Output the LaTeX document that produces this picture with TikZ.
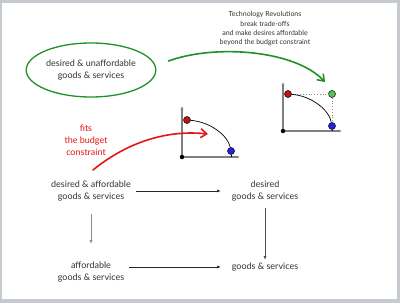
\documentclass[tikz,border=0pt]{standalone}
\usepackage{fontspec}
\setmainfont{Lato}
\usepackage{tikz}
\usetikzlibrary{arrows.meta,positioning,calc,shapes.geometric}
\definecolor{slidegray}{RGB}{196,202,208}
\definecolor{sketchgreen}{RGB}{30,145,40}
\definecolor{sketchred}{RGB}{230,20,20}
\definecolor{dotred}{RGB}{190,20,20}
\definecolor{dotgreen}{RGB}{80,200,80}
\definecolor{dotblue}{RGB}{40,30,230}

\begin{document}
\begin{tikzpicture}[x=1pt, y=-1pt,
  label/.style={align=center, font=\fontsize{9}{12}\selectfont, text=black!80, inner sep=1pt},
  note/.style={align=center, font=\fontsize{7}{9.3}\selectfont, text=black!80, inner sep=1pt},
  arrow/.style={-{Latex[length=3.5pt,width=3pt]}, line width=0.6pt, black!85},
  axis/.style={-{Latex[length=3.5pt,width=3pt]}, line width=1.1pt, black!50},
  dot/.style={circle, draw=black, line width=0.5pt, inner sep=0pt, minimum size=7pt},
  origin/.style={circle, fill=black, inner sep=0pt, minimum size=4.5pt},
  sketch/.style={-{Straight Barb[length=6pt,width=9pt]}, line width=1.6pt, line cap=round}
]
% slide
\fill[slidegray] (0,0) rectangle (400,303);
\fill[white] (2,3) rectangle (397,299);
\useasboundingbox (0,0) rectangle (400,303);

% top: the unaffordable set and the revolution
\node[label, ellipse, draw=sketchgreen, line width=1.3pt, minimum width=118pt, minimum height=54pt] (unaff) at (91,70) {desired \& unaffordable\\ goods \& services};
\node[note] (revol) at (265,29) {Technology Revolutions\\ break trade-offs\\ and make desires affordable\\ beyond the budget constraint};
\coordinate (revtip) at (325,82);
\draw[sketch, sketchgreen] ([shift={(12,-9)}]unaff.east) .. controls (215,44) and (295,50) .. (revtip);

% right frontier
\coordinate (o2) at (283,131);
\draw[axis] (o2) -- (283,82);
\draw[axis] (o2) -- (342,131);
\node[dot, fill=dotred] (r2) at (288,94) {};
\node[dot, fill=dotgreen] (g2) at (332,94) {};
\node[dot, fill=dotblue] (b2) at (332,126) {};
\draw[black!45, dotted, line width=0.8pt] (r2) -- (g2) -- (b2);
\draw[line width=0.7pt] (r2) .. controls (312,96) and (329,110) .. (b2);
\draw[line width=0.7pt] (b2) -- (b2 |- o2);
\node[origin] (o2dot) at (o2) {};

% left frontier
\coordinate (o1) at (182,157);
\draw[axis] (o1) -- (182,106);
\draw[axis] (o1) -- (240,157);
\node[dot, fill=dotred] (r1) at (187,120) {};
\node[dot, fill=dotblue] (b1) at (231,151) {};
\draw[line width=0.7pt] (r1) .. controls (211,122) and (228,136) .. (b1);
\draw[line width=0.7pt] (b1) -- (b1 |- o1);
\node[origin] (o1dot) at (o1) {};

% fits the budget
\node[label, text=sketchred] (fits) at (86,140) {fits\\ the budget\\ constraint};
\coordinate (fitstail) at (93,170);
\coordinate (fitstip) at (208,134);
\draw[sketch, sketchred] (fitstail) .. controls (130,140) and (170,130) .. (fitstip);

% bottom square
\node[label] (desaff) at (91,191) {desired \& affordable\\ goods \& services};
\node[label] (des) at (265,191) {desired\\ goods \& services};
\node[label] (aff) at (91,272) {affordable\\ goods \& services};
\node[label] (all) at (265,267) {goods \& services};
\draw[arrow] ([xshift=4pt]desaff.east) -- ([xshift=-10pt]des.west);
\draw[arrow] ([xshift=4pt]aff.east |- all) -- ([xshift=-10pt]all.west);
\draw[arrow, black!45] ([yshift=-12pt]desaff.south) -- ([yshift=17pt]aff.north);
\draw[arrow, black!70] ([yshift=-6pt]des.south) -- ([yshift=2pt]all.north);
\end{tikzpicture}
\end{document}
